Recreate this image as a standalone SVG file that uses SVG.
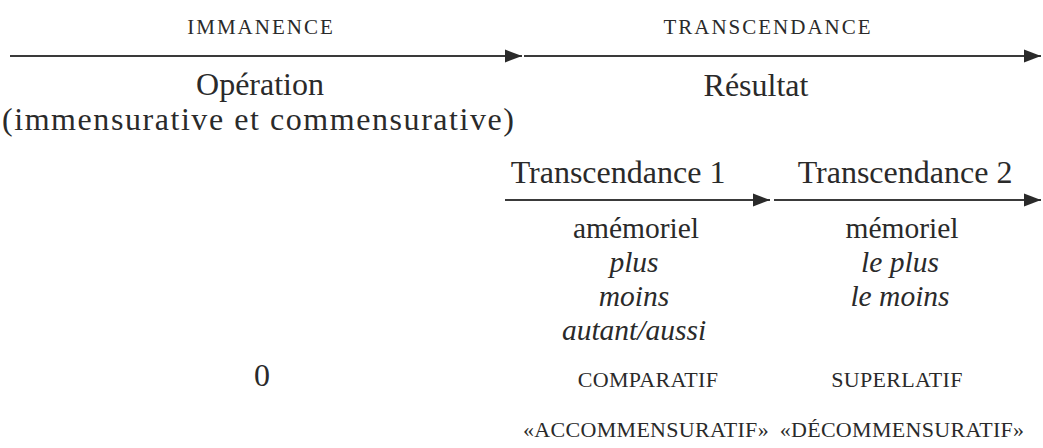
<svg xmlns="http://www.w3.org/2000/svg" width="1043" height="448" viewBox="0 0 1043 448">
<defs>
<marker id="ah" markerWidth="18" markerHeight="14" refX="17" refY="7" orient="auto" markerUnits="userSpaceOnUse">
<path d="M0,0.5 L17,7 L0,13.5 Z" fill="#2a2a2a"/>
</marker>
<style>
text{font-family:"Liberation Serif","Times New Roman",serif;fill:#2a2a2a;text-anchor:middle}
.m{font-size:32px}
.s{font-size:29.5px}
.i{font-size:29.5px;font-style:italic}
.sc{font-size:21px;letter-spacing:2px}
.cap{font-size:22px;letter-spacing:0.3px}
.ln{stroke:#3a3a3a;stroke-width:2;fill:none;marker-end:url(#ah)}
</style>
</defs>
<rect width="1043" height="448" fill="#ffffff"/>
<g id="connectors">
<line class="ln" x1="10" y1="56" x2="522" y2="56"/>
<line class="ln" x1="524" y1="56" x2="1041" y2="56"/>
<line class="ln" x1="505" y1="200" x2="770" y2="200"/>
<line class="ln" x1="774" y1="200" x2="1041" y2="200"/>
</g>
<g id="immanence">
<text class="sc" x="261" y="34">IMMANENCE</text>
<text class="m" x="260" y="95">Opération</text>
<text class="m" x="258" y="130" textLength="512" lengthAdjust="spacing">(immensurative et commensurative)</text>
<text class="m" x="262" y="386">0</text>
</g>
<g id="transcendance">
<text class="sc" x="768" y="34">TRANSCENDANCE</text>
<text class="m" x="756" y="96">Résultat</text>
</g>
<g id="transcendance1">
<text class="m" x="618" y="183">Transcendance 1</text>
<text class="s" x="636" y="238">amémoriel</text>
<text class="i" x="634" y="272">plus</text>
<text class="i" x="634" y="306">moins</text>
<text class="i" x="634" y="340">autant/aussi</text>
<text class="cap" x="648" y="387">COMPARATIF</text>
<text class="cap" x="646" y="437">«ACCOMMENSURATIF»</text>
</g>
<g id="transcendance2">
<text class="m" x="905" y="183">Transcendance 2</text>
<text class="s" x="902" y="238">mémoriel</text>
<text class="i" x="900" y="272">le plus</text>
<text class="i" x="900" y="306">le moins</text>
<text class="cap" x="897" y="387">SUPERLATIF</text>
<text class="cap" x="902" y="437">«DÉCOMMENSURATIF»</text>
</g>
</svg>
